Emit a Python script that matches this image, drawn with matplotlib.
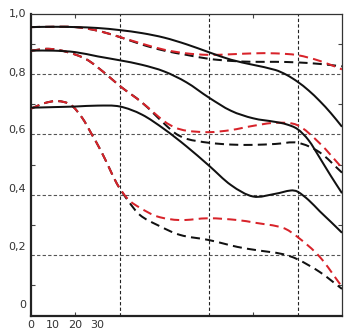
import matplotlib
matplotlib.use("Agg")
import matplotlib.pyplot as plt
from matplotlib.path import Path
from matplotlib.patches import PathPatch

# MTF curves: x = image height position, y = contrast
s1_x = [0, 10, 20, 30, 40, 50, 60, 70, 80, 90, 100, 110, 115, 120, 125, 130, 135, 140]
s1_y = [0.955, 0.956, 0.955, 0.952, 0.945, 0.935, 0.92, 0.898, 0.872, 0.847, 0.83, 0.813, 0.797, 0.774, 0.745, 0.71, 0.67, 0.625]

s2_x = [0, 10, 20, 30, 40, 50, 60, 70, 80, 90, 100, 110, 115, 120, 125, 130, 135, 140]
s2_y = [0.877, 0.877, 0.872, 0.858, 0.845, 0.83, 0.808, 0.772, 0.722, 0.678, 0.653, 0.641, 0.633, 0.617, 0.58, 0.522, 0.462, 0.405]

s3_x = [0, 10, 20, 30, 40, 50, 60, 70, 80, 90, 100, 110, 117, 120, 125, 130, 135, 140]
s3_y = [0.688, 0.69, 0.692, 0.695, 0.692, 0.665, 0.617, 0.56, 0.497, 0.432, 0.394, 0.403, 0.414, 0.41, 0.382, 0.345, 0.31, 0.274]

k1_x = [0, 10, 20, 30, 40, 50, 60, 70, 80, 90, 100, 110, 120, 130, 140]
k1_y = [0.955, 0.956, 0.955, 0.943, 0.922, 0.897, 0.877, 0.863, 0.85, 0.843, 0.84, 0.84, 0.838, 0.833, 0.825]

r1_x = [0, 10, 20, 30, 40, 50, 60, 70, 80, 90, 100, 110, 120, 130, 140]
r1_y = [0.955, 0.956, 0.955, 0.943, 0.922, 0.9, 0.88, 0.868, 0.863, 0.865, 0.868, 0.868, 0.862, 0.843, 0.815]

k2_x = [0, 8, 16, 25, 33, 40, 50, 60, 65, 70, 80, 90, 100, 110, 120, 130, 140]
k2_y = [0.877, 0.883, 0.873, 0.848, 0.804, 0.76, 0.705, 0.635, 0.603, 0.585, 0.572, 0.566, 0.565, 0.568, 0.572, 0.54, 0.473]

r2_x = [0, 8, 16, 25, 33, 40, 50, 60, 65, 70, 80, 90, 100, 110, 120, 130, 140]
r2_y = [0.877, 0.883, 0.873, 0.848, 0.804, 0.76, 0.705, 0.643, 0.622, 0.612, 0.607, 0.614, 0.628, 0.638, 0.63, 0.57, 0.489]

k3_x = [0, 6, 12, 18, 23, 27.5, 31.5, 35, 38.7, 43.7, 49, 56.8, 67, 80, 93, 101, 113.5, 120, 130, 140]
k3_y = [0.685, 0.703, 0.71, 0.697, 0.655, 0.598, 0.545, 0.492, 0.436, 0.38, 0.333, 0.3, 0.267, 0.25, 0.227, 0.217, 0.203, 0.186, 0.144, 0.088]

r3_x = [0, 6, 12, 18, 23, 27.5, 31.5, 35, 38.7, 43.7, 49, 56.8, 67, 80, 93, 101, 113.5, 120, 130, 140]
r3_y = [0.685, 0.703, 0.71, 0.697, 0.655, 0.598, 0.545, 0.492, 0.436, 0.385, 0.357, 0.328, 0.316, 0.322, 0.316, 0.307, 0.29, 0.26, 0.194, 0.095]

y_grid_values = [0.2, 0.4, 0.6, 0.8]
x_grid_values = [40, 80, 120]
y_labels = ["1,0", "0,8", "0,6", "0,4", "0,2", "0"]
y_label_pos = [1.0, 0.804, 0.615, 0.42, 0.227, 0.035]
x_labels = ["0", "10", "20", "30"]
x_label_pos = [0, 10, 20, 30]

RED = "#d8232a"
INK = "#111111"


def smooth_path(xs, ys):
    """Cubic Hermite (Bezier) path through the given points."""
    n = len(xs)
    slopes = []
    for i in range(n):
        if i == 0:
            m = (ys[1] - ys[0]) / (xs[1] - xs[0])
        elif i == n - 1:
            m = (ys[-1] - ys[-2]) / (xs[-1] - xs[-2])
        else:
            m = (ys[i + 1] - ys[i - 1]) / (xs[i + 1] - xs[i - 1])
        slopes.append(m)
    verts = [(xs[0], ys[0])]
    codes = [Path.MOVETO]
    for i in range(n - 1):
        h = xs[i + 1] - xs[i]
        verts += [(xs[i] + h / 3, ys[i] + slopes[i] * h / 3),
                  (xs[i + 1] - h / 3, ys[i + 1] - slopes[i + 1] * h / 3),
                  (xs[i + 1], ys[i + 1])]
        codes += [Path.CURVE4] * 3
    return Path(verts, codes)


def draw(ax, xs, ys, color, ls, z):
    patch = PathPatch(smooth_path(xs, ys), facecolor="none", edgecolor=color,
                      lw=1.45, linestyle=ls, zorder=z, capstyle="butt")
    ax.add_patch(patch)


fig = plt.figure(figsize=(3.46, 3.29), dpi=100)
ax = fig.add_axes([31 / 346, 13.5 / 329, 311 / 346, 302 / 329])
ax.set_xlim(0, 140)
ax.set_ylim(0, 1.0)

# grid
for v in y_grid_values:
    ax.axhline(v, color="#555555", lw=0.8, ls=(0, (3, 2)), zorder=1)
for v in x_grid_values:
    ax.axvline(v, color="#222222", lw=0.8, ls=(0, (3, 2)), zorder=1)

dash = (0, (4.5, 2.6))
for xs, ys in [(k1_x, k1_y), (k2_x, k2_y), (k3_x, k3_y)]:
    draw(ax, xs, ys, INK, dash, 3)
for xs, ys in [(r1_x, r1_y), (r2_x, r2_y), (r3_x, r3_y)]:
    draw(ax, xs, ys, RED, dash, 4)
for xs, ys in [(s1_x, s1_y), (s2_x, s2_y), (s3_x, s3_y)]:
    draw(ax, xs, ys, INK, "-", 5)

# spines
for side in ["left", "bottom"]:
    ax.spines[side].set_linewidth(1.6)
    ax.spines[side].set_color("#222222")
for side in ["top", "right"]:
    ax.spines[side].set_linewidth(0.9)
    ax.spines[side].set_color("#333333")

ax.set_xticks([20, 100])
ax.set_xticklabels([])
ax.set_yticks([0.1, 0.3, 0.5, 0.7, 0.9])
ax.set_yticklabels([])
ax.tick_params(direction="in", length=3, width=0.8, colors="#444444",
               top=True, right=True, bottom=True, left=True)

for lab, pos in zip(y_labels, y_label_pos):
    ax.text(-5 / 2.22, pos, lab, ha="right", va="center", fontsize=8,
            color="#333333", family="DejaVu Sans")
for lab, pos in zip(x_labels, x_label_pos):
    ax.text(pos, -0.03, lab, ha="center", va="center", fontsize=8,
            color="#333333", family="DejaVu Sans", clip_on=False)

fig.savefig("out.png", dpi=100)
